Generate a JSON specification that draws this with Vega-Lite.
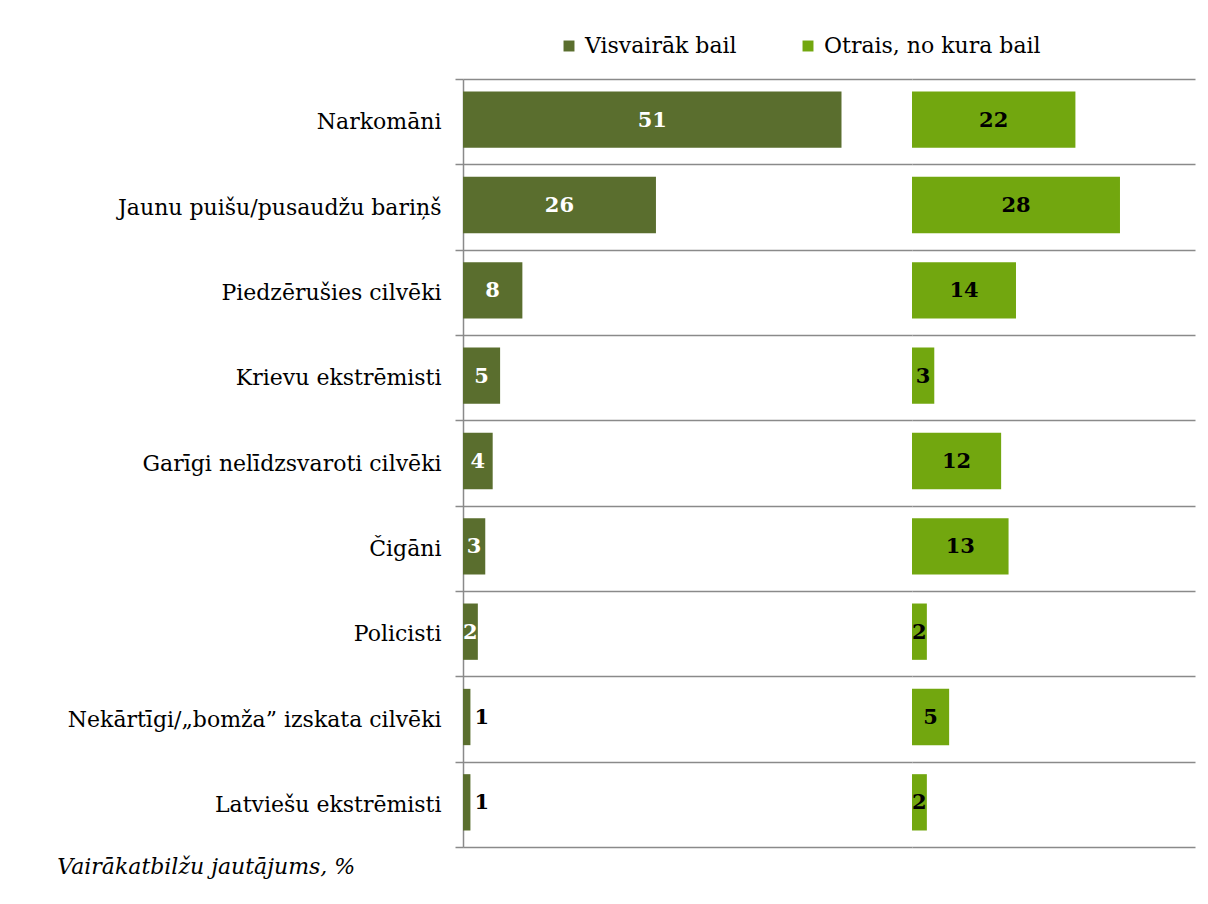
{
  "$schema": "https://vega.github.io/schema/vega-lite/v6.json",
  "background": "white",
  "padding": {"left": 57, "top": 35, "right": 5, "bottom": 10},
  "data": {"values": [
    {"cat": "Narkomāni", "s": "Visvairāk bail", "v": 51},
    {"cat": "Jaunu puišu/pusaudžu bariņš", "s": "Visvairāk bail", "v": 26},
    {"cat": "Piedzērušies cilvēki", "s": "Visvairāk bail", "v": 8},
    {"cat": "Krievu ekstrēmisti", "s": "Visvairāk bail", "v": 5},
    {"cat": "Garīgi nelīdzsvaroti cilvēki", "s": "Visvairāk bail", "v": 4},
    {"cat": "Čigāni", "s": "Visvairāk bail", "v": 3},
    {"cat": "Policisti", "s": "Visvairāk bail", "v": 2},
    {"cat": "Nekārtīgi/„bomža” izskata cilvēki", "s": "Visvairāk bail", "v": 1},
    {"cat": "Latviešu ekstrēmisti", "s": "Visvairāk bail", "v": 1},
    {"cat": "Narkomāni", "s": "Otrais, no kura bail", "v": 22},
    {"cat": "Jaunu puišu/pusaudžu bariņš", "s": "Otrais, no kura bail", "v": 28},
    {"cat": "Piedzērušies cilvēki", "s": "Otrais, no kura bail", "v": 14},
    {"cat": "Krievu ekstrēmisti", "s": "Otrais, no kura bail", "v": 3},
    {"cat": "Garīgi nelīdzsvaroti cilvēki", "s": "Otrais, no kura bail", "v": 12},
    {"cat": "Čigāni", "s": "Otrais, no kura bail", "v": 13},
    {"cat": "Policisti", "s": "Otrais, no kura bail", "v": 2},
    {"cat": "Nekārtīgi/„bomža” izskata cilvēki", "s": "Otrais, no kura bail", "v": 5},
    {"cat": "Latviešu ekstrēmisti", "s": "Otrais, no kura bail", "v": 2}
  ]},
  "title": {
    "text": "Vairākatbilžu jautājums, %",
    "orient": "bottom",
    "anchor": "start",
    "font": "DejaVu Serif",
    "fontStyle": "italic",
    "fontWeight": "normal",
    "fontSize": 22,
    "color": "#000000",
    "offset": 9,
    "dx": -10
  },
  "spacing": 0,
  "resolve": {"scale": {"color": "shared"}, "legend": {"color": "shared"}},
  "hconcat": [
    {
      "width": 449,
      "height": 768,
      "transform": [{"filter": "datum.s === 'Visvairāk bail'"}],
      "encoding": {
        "y": {
          "field": "cat", "type": "nominal", "sort": null,
          "scale": {"paddingInner": 0, "paddingOuter": 0},
          "axis": {
            "title": null,
            "domain": true, "domainColor": "#8a8a8a", "domainWidth": 1.5,
            "grid": true, "gridColor": "#8a8a8a", "gridWidth": 1.5,
            "tickBand": "extent", "ticks": true, "tickSize": 8, "tickColor": "#8a8a8a", "tickWidth": 1.5,
            "labelFont": "DejaVu Serif", "labelFontSize": 22, "labelColor": "#000000",
            "labelPadding": 14, "labelLimit": 600
          }
        }
      },
      "layer": [
        {
          "mark": {"type": "bar", "height": {"band": 0.66}, "yOffset": -2},
          "encoding": {
            "x": {"field": "v", "type": "quantitative", "scale": {"domain": [0, 60.5], "nice": false}, "axis": null},
            "color": {
              "field": "s", "type": "nominal",
              "scale": {"domain": ["Visvairāk bail", "Otrais, no kura bail"], "range": ["#5a6e2e", "#72a70f"]},
              "legend": {
                "title": null, "orient": "none", "direction": "horizontal",
                "legendX": 95, "legendY": -44,
                "symbolType": "square", "symbolSize": 120, "symbolStrokeWidth": 0,
                "labelFont": "DejaVu Serif", "labelFontSize": 22, "labelColor": "#000000",
                "labelOffset": 5, "columnPadding": 60, "labelLimit": 400
              }
            }
          }
        },
        {
          "transform": [{"filter": "datum.v >= 2"}],
          "mark": {"type": "text", "color": "white", "font": "DejaVu Serif", "fontWeight": "bold", "fontSize": 21, "align": "center", "baseline": "middle", "yOffset": -1},
          "encoding": {
            "x": {"field": "v", "type": "quantitative", "stack": "zero", "bandPosition": 0.5},
            "text": {"field": "v", "type": "quantitative"}
          }
        },
        {
          "transform": [{"filter": "datum.v < 2"}],
          "mark": {"type": "text", "color": "black", "font": "DejaVu Serif", "fontWeight": "bold", "fontSize": 21, "align": "left", "baseline": "middle", "dx": 4, "yOffset": -1},
          "encoding": {
            "x": {"field": "v", "type": "quantitative"},
            "text": {"field": "v", "type": "quantitative"}
          }
        }
      ]
    },
    {
      "width": 283,
      "height": 768,
      "transform": [{"filter": "datum.s === 'Otrais, no kura bail'"}],
      "encoding": {
        "y": {
          "field": "cat", "type": "nominal", "sort": null,
          "scale": {"paddingInner": 0, "paddingOuter": 0},
          "axis": {
            "title": null, "labels": false, "ticks": false, "domain": false,
            "grid": true, "gridColor": "#8a8a8a", "gridWidth": 1.5, "tickBand": "extent"
          }
        }
      },
      "layer": [
        {
          "mark": {"type": "bar", "height": {"band": 0.66}, "yOffset": -2},
          "encoding": {
            "x": {"field": "v", "type": "quantitative", "scale": {"domain": [0, 38.1], "nice": false}, "axis": null},
            "color": {"field": "s", "type": "nominal", "legend": null}
          }
        },
        {
          "mark": {"type": "text", "color": "black", "font": "DejaVu Serif", "fontWeight": "bold", "fontSize": 21, "align": "center", "baseline": "middle", "yOffset": -1},
          "encoding": {
            "x": {"field": "v", "type": "quantitative", "stack": "zero", "bandPosition": 0.5},
            "text": {"field": "v", "type": "quantitative"}
          }
        }
      ]
    }
  ],
  "config": {"view": {"stroke": null}}
}
